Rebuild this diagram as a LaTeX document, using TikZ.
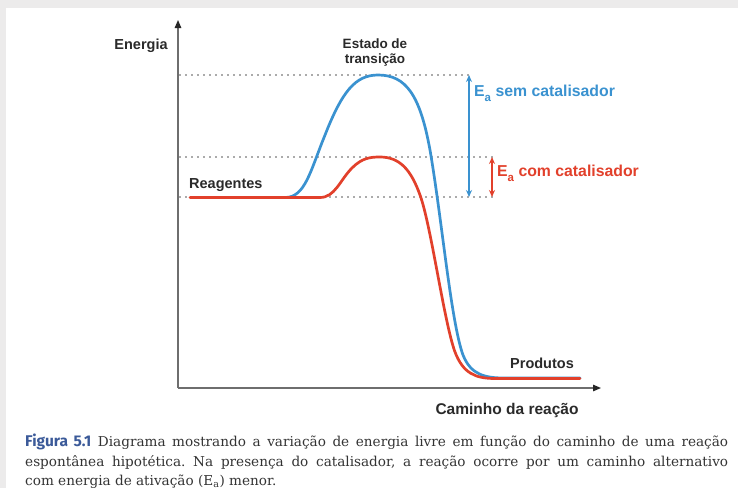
\documentclass[tikz,border=0pt]{standalone}
\usepackage{fontspec}
\setmainfont{DejaVu Serif}
\setsansfont{Liberation Sans}
\newfontfamily\figfont{Fira Sans}
\usetikzlibrary{arrows.meta}
\definecolor{bgGray}{HTML}{ECEBEB}
\definecolor{curveBlue}{HTML}{3A92D0}
\definecolor{curveRed}{HTML}{E2402B}
\definecolor{labelGray}{HTML}{2A2A2A}
\definecolor{axisGray}{HTML}{6E6E6E}
\definecolor{dotGray}{HTML}{555555}
\definecolor{figBlue}{HTML}{3B5A99}
\definecolor{capGray}{HTML}{333333}
\tikzset{
  lbl/.style={font=\sffamily\bfseries\fontsize{14.5}{16}\selectfont, text=labelGray, inner sep=0pt},
  axisline/.style={draw=axisGray, line width=1.3pt, -{Triangle[length=8pt,width=6.5pt,fill=black!85,color=black!85]}},
  dotline/.style={draw=dotGray, line width=1.9pt, line cap=round, dash pattern=on 0pt off 6pt},
  curve/.style={line width=2.7pt, line cap=round, line join=round},
  eaarrow/.style={line width=1.6pt, {Stealth[length=7pt,width=6pt]}-{Stealth[length=7pt,width=6pt]}},
  capline/.style={anchor=base west, inner sep=0pt, text=capGray, font=\fontsize{13.6}{16}\selectfont}
}
\begin{document}
\frenchspacing
\begin{tikzpicture}[x=1pt,y=-1pt]
\useasboundingbox (0,0) rectangle (738,488);
\fill[bgGray] (0,0) rectangle (738,488);
\fill[white] (6,8) rectangle (738,488);

% axes
\coordinate (origin) at (178,388);
\coordinate (ytip) at (178,20);
\coordinate (xtip) at (601,388);
\draw[axisline] (origin) -- (ytip);
\draw[axisline] (origin) -- (xtip);

% reference levels
\coordinate (topL) at (180,75);
\coordinate (topR) at (469,75);
\coordinate (midL) at (180,157);
\coordinate (midR) at (492,157);
\coordinate (lowL) at (180,197);
\coordinate (lowR) at (492,197);
\coordinate (lowB) at (469,197);
\draw[dotline] (topL) -- (topR);
\draw[dotline] (midL) -- (midR);
\draw[dotline] (lowL) -- (lowR);

% curves
\draw[curve, curveBlue] (272,197.5) -- (285,197.5)
  .. controls (305,197.5) and (310,172) .. (325,135)
  .. controls (342,92) and (355,75) .. (378,75)
  .. controls (406,75) and (420,95) .. (430,150)
  .. controls (442,220) and (451,322) .. (463,355)
  .. controls (471,375) and (485,378) .. (505,378) -- (580,378);
\draw[curve, curveRed] (190,197.5) -- (320,197.5)
  .. controls (335,197.5) and (340,180) .. (352,168)
  .. controls (362,158) and (370,157) .. (380,157)
  .. controls (400,157) and (411,170) .. (420,195)
  .. controls (431,225) and (444,322) .. (455,352)
  .. controls (463,373) and (475,378.5) .. (495,378.5) -- (580,378.5);

% activation energy arrows
\draw[eaarrow, curveBlue] (topR) -- (lowB);
\draw[eaarrow, curveRed] (midR) -- (lowR);

% labels
\node[lbl] (energia) at (141,46) {Energia};
\node[lbl, align=center, font=\sffamily\bfseries\fontsize{13.5}{15}\selectfont] (estado) at (375,53) {Estado de\\transição};
\node[lbl, anchor=west, text=curveBlue, font=\sffamily\bfseries\fontsize{15.8}{17}\selectfont] (easem) at (474,93) {E\raisebox{-0.3em}{\fontsize{11.5}{12}\selectfont a} sem catalisador};
\node[lbl, anchor=west, text=curveRed, font=\sffamily\bfseries\fontsize{15.8}{17}\selectfont] (eacom) at (497,173) {E\raisebox{-0.3em}{\fontsize{11.5}{12}\selectfont a} com catalisador};
\node[lbl, anchor=west] (reag) at (189,185) {Reagentes};
\node[lbl, anchor=west] (prod) at (510,363) {Produtos};
\node[lbl, font=\sffamily\bfseries\fontsize{15.5}{17}\selectfont] (caminho) at (507,410) {Caminho da reação};

% caption
\node[capline] (cap1) at (25,446) {\makebox[703pt][s]{{\figfont\fontsize{15.5}{16}\selectfont\bfseries\color{figBlue}Figura 5.1} Diagrama mostrando a variação de energia livre em função do caminho de uma reação}};
\node[capline] (cap2) at (25,466) {\makebox[703pt][s]{espontânea hipotética. Na presença do catalisador, a reação ocorre por um caminho alternativo}};
\node[capline] (cap3) at (25,485) {com energia de ativação (E\textsubscript{a}) menor.};
\end{tikzpicture}
\end{document}
